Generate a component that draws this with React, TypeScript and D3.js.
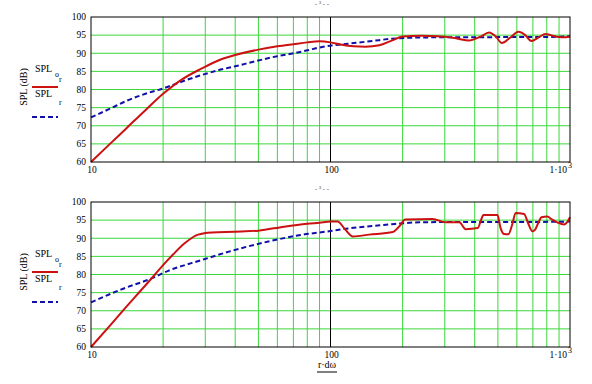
import * as d3 from 'd3';

// top panel, red (SPL o_r)
const topOrFreq = [10, 12, 14, 17, 20, 24, 29, 34, 40, 50, 60, 70, 80, 90, 100, 110, 125, 140, 160, 180, 200, 240, 280, 330, 380, 420, 460, 490, 520, 560, 610, 650, 690, 740, 790, 830, 870, 920, 960, 1000];
const topOrSpl = [60, 65, 69.2, 74.5, 78.8, 82.8, 85.8, 88.0, 89.5, 91.0, 91.9, 92.5, 93.0, 93.3, 93.0, 92.4, 91.9, 91.8, 92.2, 93.5, 94.6, 94.8, 94.7, 94.2, 93.5, 94.5, 95.7, 94.6, 92.8, 94.2, 95.9, 95.0, 93.4, 94.4, 95.3, 95.0, 94.6, 94.4, 94.4, 94.6];
// top panel, blue (SPL r)
const topRFreq = [10, 12, 14, 17, 20, 24, 29, 34, 40, 50, 60, 70, 80, 90, 100, 125, 150, 180, 220, 300, 400, 600, 800, 1000];
const topRSpl = [72.3, 74.7, 76.8, 78.9, 80.3, 82.2, 84.0, 85.3, 86.4, 88.0, 89.2, 90.0, 90.8, 91.6, 92.1, 92.8, 93.4, 94.0, 94.3, 94.4, 94.4, 94.5, 94.5, 94.7];

// bottom panel, red
const botOrFreq = [10, 12, 14, 16, 18.5, 20, 22, 24.6, 28, 32, 40, 50, 64, 80, 90, 100, 107, 115, 124, 145, 182, 195, 205, 267, 302, 345, 367, 412, 425, 435, 498, 512, 530, 553, 575, 593, 643, 670, 697, 714, 740, 760, 804, 840, 885, 944, 975, 1000];
const botOrSpl = [60, 65.9, 71.0, 75.3, 80.0, 82.6, 85.5, 88.6, 91.0, 91.6, 91.8, 92.1, 93.2, 94.0, 94.3, 94.6, 94.6, 92.5, 90.5, 91.0, 91.7, 93.5, 95.2, 95.3, 94.4, 94.4, 92.5, 92.8, 95.0, 96.4, 96.4, 93.0, 91.2, 91.1, 94.0, 97.0, 96.7, 94.0, 91.9, 92.3, 94.5, 95.8, 96.0, 95.2, 94.4, 93.8, 94.5, 95.8];
// bottom panel, blue
const botRFreq = [10, 13.4, 18, 21, 29, 40, 55, 75, 100, 107, 130, 170, 235, 400, 700, 1000];
const botRSpl = [72.3, 75.9, 79, 81, 84, 86.8, 89.1, 90.9, 92.0, 92.3, 93.0, 93.7, 94.4, 94.5, 94.5, 94.6];

const yTicks = [60, 65, 70, 75, 80, 85, 90, 95, 100];
const xMinor = [20, 30, 40, 50, 60, 70, 80, 90, 200, 300, 400, 500, 600, 700, 800, 900];

const W = 592;
const H = 384;
const left = 91;
const right = 570;
const serif = '"Liberation Serif", "DejaVu Serif", serif';

function Panel({ top, orF, orV, rF, rV }: { top: number; orF: number[]; orV: number[]; rF: number[]; rV: number[] }) {
  const bottom = top + 145;
  const x = d3.scaleLog().domain([10, 1000]).range([left, right]);
  const y = d3.scaleLinear().domain([60, 100]).range([bottom, top]);
  const line = d3.line<[number, number]>()
    .x(d => x(d[0]))
    .y(d => y(d[1]))
    .curve(d3.curveMonotoneX);
  const red = line(orF.map((f, i) => [f, orV[i]] as [number, number])) || '';
  const blue = line(rF.map((f, i) => [f, rV[i]] as [number, number])) || '';
  const off = top - 17; // legend offset relative to the top panel

  return (
    <g>
      {/* tiny caption above plot */}
      <text x={322} y={top - 11} fontSize={7} fill="#444" fontFamily={serif} textAnchor="middle">- ³ - -</text>

      {/* grid */}
      {yTicks.slice(1, -1).map(t => (
        <line key={'h' + t} x1={left} x2={right} y1={y(t)} y2={y(t)} stroke="#3ad83a" strokeWidth={1} />
      ))}
      {xMinor.map(t => (
        <line key={'v' + t} x1={x(t)} x2={x(t)} y1={top} y2={bottom} stroke="#3ad83a" strokeWidth={1} />
      ))}
      <line x1={x(100)} x2={x(100)} y1={top} y2={bottom} stroke="#000" strokeWidth={1} />

      {/* curves */}
      <path d={blue} fill="none" stroke="#1010a8" strokeWidth={2} strokeDasharray="5,3" />
      <path d={red} fill="none" stroke="#cc1111" strokeWidth={2} />

      <rect x={left} y={top} width={right - left} height={bottom - top} fill="none" stroke="#000" strokeWidth={1} />

      {/* y tick labels */}
      {yTicks.map(t => (
        <text key={'yl' + t} x={86} y={y(t)} dy="0.35em" fontSize={9.5} textAnchor="end" fontFamily={serif} fill="#000">{t}</text>
      ))}
      {/* x tick labels */}
      <text x={x(10) + 1} y={bottom + 11} fontSize={9.5} textAnchor="middle" fontFamily={serif}>10</text>
      <text x={x(100) + 1} y={bottom + 11} fontSize={9.5} textAnchor="middle" fontFamily={serif}>100</text>
      <text x={right - 3} y={bottom + 11} fontSize={9.5} textAnchor="end" fontFamily={serif}>1·10</text>
      <text x={right - 2} y={bottom + 6} fontSize={8} textAnchor="start" fontFamily={serif}>3</text>

      {/* y axis label */}
      <text transform={`translate(23,${off + 87}) rotate(-90)`} fontSize={10} textAnchor="middle" dy="0.35em" fontFamily={serif}>SPL (dB)</text>

      {/* legend */}
      <text x={35} y={off + 72} fontSize={10} fontFamily={serif}>SPL</text>
      <text x={55} y={off + 77} fontSize={8} fontFamily={serif}>o</text>
      <text x={59} y={off + 82} fontSize={8} fontFamily={serif}>r</text>
      <line x1={32} x2={58} y1={off + 87} y2={off + 87} stroke="#cc1111" strokeWidth={2} />
      <text x={35} y={off + 97} fontSize={10} fontFamily={serif}>SPL</text>
      <text x={59} y={off + 105} fontSize={8} fontFamily={serif}>r</text>
      <line x1={32} x2={58} y1={off + 117} y2={off + 117} stroke="#1010a8" strokeWidth={2} strokeDasharray="5,3" />
    </g>
  );
}

export default function App() {
  return (
    <svg width={W} height={H} style={{ position: 'absolute', left: 0, top: 0, background: '#fff' }}>
      <rect width={W} height={H} fill="#fff" />
      <Panel top={17} orF={topOrFreq} orV={topOrSpl} rF={topRFreq} rV={topRSpl} />
      <Panel top={202} orF={botOrFreq} orV={botOrSpl} rF={botRFreq} rV={botRSpl} />
      {/* x axis label */}
      <text x={327} y={368} fontSize={10} textAnchor="middle" fontFamily={serif}>r·dω</text>
      <line x1={317} x2={337} y1={372} y2={372} stroke="#000" strokeWidth={1} />
    </svg>
  );
}
